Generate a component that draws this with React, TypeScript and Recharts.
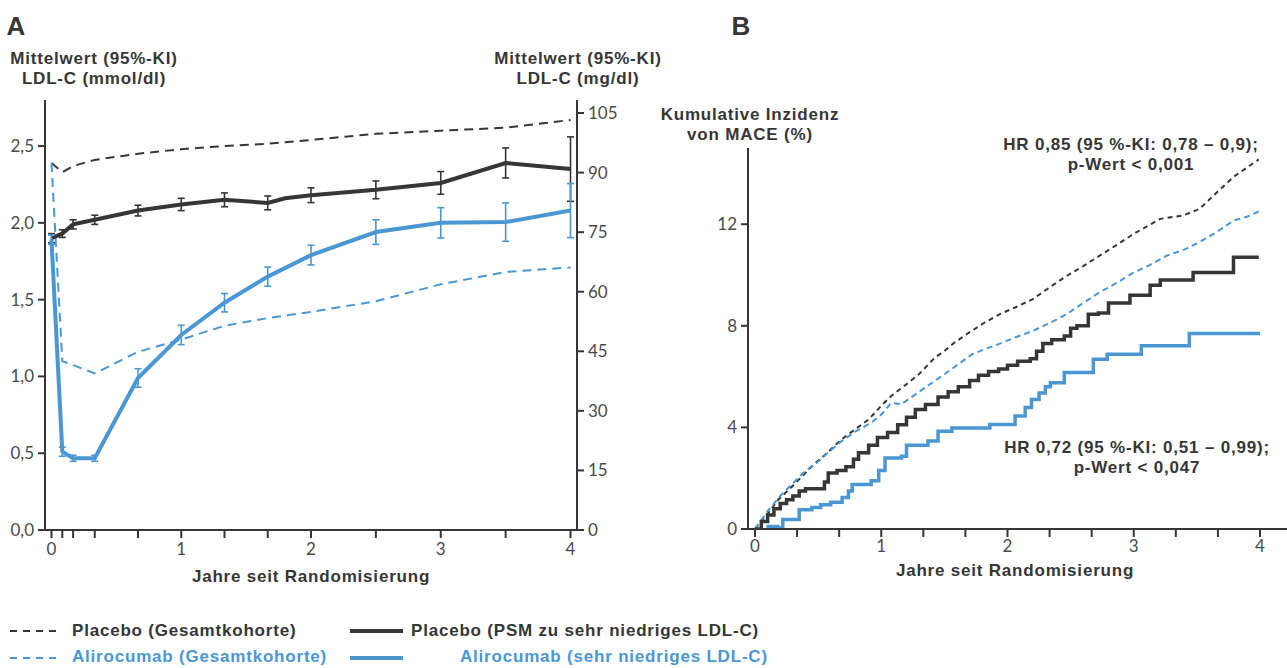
import { LineChart, Line, XAxis, YAxis, ErrorBar } from "recharts";

const BLACK = "#363636";
const BLUE = "#4a97d4";
const FONT = "'Liberation Sans', Arial, sans-serif";

// Panel A: LDL-C at visits (years since randomisation)
const visitYears = [0, 1 / 12, 1 / 6, 1 / 3, 2 / 3, 1, 4 / 3, 5 / 3, 2, 2.5, 3, 3.5, 4];
const placeboTotal = [2.39, 2.33, 2.37, 2.41, 2.45, 2.48, 2.5, 2.515, 2.54, 2.58, 2.6, 2.62, 2.67];

const psmYears = [0, 1 / 12, 1 / 6, 1 / 3, 2 / 3, 1, 4 / 3, 5 / 3, 1.8, 2, 2.5, 3, 3.5, 4];
const placeboPsm = [1.9, 1.93, 1.99, 2.02, 2.08, 2.12, 2.15, 2.13, 2.16, 2.18, 2.215, 2.26, 2.39, 2.35];
const placeboPsmErr = [0.03, 0.025, 0.03, 0.03, 0.035, 0.04, 0.045, 0.045, null, 0.048, 0.058, 0.074, 0.098, 0.21];

const alirocumabLow = [1.89, 0.51, 0.467, 0.467, 0.99, 1.27, 1.48, 1.65, 1.79, 1.94, 2.0, 2.005, 2.08];
const alirocumabLowErr = [0.03, 0.03, 0.02, 0.02, 0.06, 0.063, 0.06, 0.062, 0.064, 0.08, 0.099, 0.125, 0.176];

const aliTotalYears = [0, 1 / 12, 1 / 3, 2 / 3, 1, 4 / 3, 5 / 3, 2, 2.5, 3, 3.5, 4];
const alirocumabTotal = [2.39, 1.1, 1.02, 1.16, 1.24, 1.33, 1.38, 1.42, 1.49, 1.6, 1.68, 1.71];

const mmolTicks = [0, 0.5, 1, 1.5, 2, 2.5];
const mgTicks = [0, 15, 30, 45, 60, 75, 90, 105];

// Panel B: cumulative incidence of MACE (%)
const kmPlaceboTotalT = [0, 0.1, 0.185, 0.3, 0.45, 0.55, 0.686, 0.8, 0.9, 1.0, 1.08, 1.2, 1.3, 1.425, 1.5, 1.58, 1.7, 1.82, 1.94, 2.06, 2.2, 2.33, 2.47, 2.6, 2.73, 2.87, 3.0, 3.1, 3.21, 3.39, 3.52, 3.66, 3.79, 3.92, 3.99];
const kmPlaceboTotalV = [0, 0.6, 1.16, 1.7, 2.47, 2.9, 3.53, 3.95, 4.31, 4.85, 5.24, 5.7, 6.1, 6.75, 7.0, 7.34, 7.75, 8.13, 8.46, 8.72, 9.05, 9.5, 9.97, 10.35, 10.76, 11.2, 11.62, 11.9, 12.21, 12.34, 12.6, 13.26, 13.86, 14.31, 14.55];

const kmAliTotalT = [0, 0.1, 0.2, 0.3, 0.396, 0.5, 0.6, 0.686, 0.8, 0.92, 1.0, 1.08, 1.16, 1.29, 1.4, 1.5, 1.6, 1.72, 1.83, 1.93, 2.06, 2.2, 2.33, 2.47, 2.6, 2.73, 2.87, 3.0, 3.13, 3.26, 3.4, 3.52, 3.66, 3.79, 3.9, 3.99];
const kmAliTotalV = [0, 0.7, 1.3, 1.8, 2.27, 2.65, 3.1, 3.46, 3.85, 4.18, 4.5, 4.97, 4.91, 5.37, 5.75, 6.09, 6.45, 6.88, 7.1, 7.28, 7.54, 7.8, 8.1, 8.46, 8.9, 9.32, 9.7, 10.1, 10.4, 10.76, 11.0, 11.29, 11.7, 12.14, 12.3, 12.5];

const kmPlaceboPsmT = [0, 0.05, 0.1, 0.15, 0.2, 0.25, 0.3, 0.35, 0.4, 0.55, 0.58, 0.65, 0.72, 0.78, 0.82, 0.9, 0.97, 1.05, 1.13, 1.2, 1.27, 1.35, 1.45, 1.53, 1.61, 1.7, 1.77, 1.85, 1.93, 2.0, 2.08, 2.18, 2.23, 2.28, 2.35, 2.45, 2.5, 2.55, 2.64, 2.72, 2.8, 2.97, 3.13, 3.21, 3.47, 3.79, 3.99];
const kmPlaceboPsmV = [0, 0.3, 0.55, 0.8, 1.0, 1.15, 1.3, 1.5, 1.58, 1.85, 2.2, 2.3, 2.45, 2.75, 3.0, 3.3, 3.6, 3.8, 4.1, 4.4, 4.7, 4.9, 5.2, 5.4, 5.6, 5.85, 6.05, 6.2, 6.3, 6.45, 6.6, 6.7, 7.0, 7.3, 7.45, 7.6, 7.9, 8.0, 8.45, 8.5, 8.9, 9.2, 9.6, 9.8, 10.1, 10.7, 10.7];

const kmAliLowT = [0.09, 0.18, 0.22, 0.35, 0.45, 0.52, 0.6, 0.69, 0.74, 0.77, 0.92, 0.98, 1.03, 1.16, 1.2, 1.37, 1.45, 1.56, 1.86, 2.06, 2.14, 2.19, 2.25, 2.3, 2.34, 2.45, 2.68, 2.79, 3.06, 3.44, 4.0];
const kmAliLowV = [0.1, 0.05, 0.37, 0.76, 0.85, 0.95, 1.05, 1.24, 1.5, 1.75, 1.9, 2.3, 2.8, 2.86, 3.3, 3.46, 3.85, 3.98, 4.11, 4.45, 4.78, 5.1, 5.35, 5.6, 5.76, 6.16, 6.68, 6.88, 7.21, 7.7, 7.7];

const kmTicksX = [0, 1 / 3, 2 / 3, 1, 4 / 3, 5 / 3, 2, 7 / 3, 8 / 3, 3, 10 / 3, 11 / 3, 4];
const kmTicksY = [0, 4, 8, 12];

const zip = (ts: number[], vs: (number | null)[], es?: (number | null)[]) =>
  ts.map((t, i) => ({ t, v: vs[i], e: es ? es[i] : undefined }));

const tickStyle = { fill: "#4a4a4a", fontSize: 17, fontFamily: "Lato, sans-serif" };
const axisStyle = { stroke: BLACK, strokeWidth: 2 };
const intOnly = (v: number) => (Number.isInteger(v) ? String(v) : "");
const comma = (v: number) => v.toFixed(1).replace(".", ",");

// y is the centre of the first line; further lines follow every 20px
function Text({ x, y, lines, color = BLACK, size = 17, align = "center", w = 420, spacing = 0.8 }: any) {
  const left = align === "center" ? x - w / 2 : align === "right" ? x - w : x;
  const lh = lines.length > 1 ? 20 : Math.round(size * 1.15);
  return (
    <div
      style={{
        position: "absolute",
        left,
        top: y - lh / 2,
        width: w,
        textAlign: align,
        fontFamily: FONT,
        fontWeight: 700,
        fontSize: size,
        letterSpacing: spacing,
        lineHeight: `${lh}px`,
        color,
        whiteSpace: "nowrap",
      }}
    >
      {lines.map((l: string, i: number) => (
        <span key={i}>
          {i > 0 && <br />}
          {l}
        </span>
      ))}
    </div>
  );
}

function LegendKey({ x, y, color, dashed }: any) {
  return (
    <svg style={{ position: "absolute", left: x, top: y - 5 }} width={56} height={10}>
      <line
        x1={0}
        x2={dashed ? 52 : 53}
        y1={5}
        y2={5}
        stroke={color}
        strokeWidth={dashed ? 2 : 4}
        strokeDasharray={dashed ? "7 6" : undefined}
      />
    </svg>
  );
}

export default function App() {
  return (
    <div style={{ position: "absolute", left: 0, top: 0, width: 1287, height: 668, background: "#fff", overflow: "hidden" }}>
      <Text x={16} y={26} size={26} spacing={0} lines={["A"]} />
      <Text x={741} y={26} size={26} spacing={0} lines={["B"]} />

      <Text x={94} y={59} lines={["Mittelwert (95%-KI)", "LDL-C (mmol/dl)"]} />
      <Text x={578} y={59} lines={["Mittelwert (95%-KI)", "LDL-C (mg/dl)"]} />

      <div style={{ position: "absolute", left: 0, top: 0 }}>
        <LineChart width={640} height={600} margin={{ top: 100, right: 0, bottom: 0, left: 0 }}>
          <XAxis
            type="number"
            dataKey="t"
            domain={[-0.05, 4.05]}
            ticks={visitYears}
            interval={0}
            tickFormatter={intOnly}
            height={70}
            tickSize={8}
            tickMargin={5}
            tick={tickStyle}
            axisLine={axisStyle}
            tickLine={axisStyle}
            allowDataOverflow
          />
          <YAxis
            yAxisId="l"
            type="number"
            domain={[0, 2.8]}
            ticks={mmolTicks}
            interval={0}
            tickFormatter={comma}
            width={45}
            tickSize={7}
            tickMargin={4}
            tick={tickStyle}
            axisLine={axisStyle}
            tickLine={axisStyle}
            allowDataOverflow
          />
          <YAxis
            yAxisId="r"
            orientation="right"
            type="number"
            domain={[0, 108.28]}
            ticks={mgTicks}
            interval={0}
            width={63}
            tickSize={7}
            tickMargin={4}
            tick={tickStyle}
            axisLine={axisStyle}
            tickLine={axisStyle}
            allowDataOverflow
          />
          <Line
            yAxisId="l"
            data={zip(visitYears, placeboTotal)}
            dataKey="v"
            stroke={BLACK}
            strokeWidth={2}
            strokeDasharray="9 6"
            dot={false}
            isAnimationActive={false}
          />
          <Line
            yAxisId="l"
            data={zip(aliTotalYears, alirocumabTotal)}
            dataKey="v"
            stroke={BLUE}
            strokeWidth={2}
            strokeDasharray="9 6"
            dot={false}
            isAnimationActive={false}
          />
          <Line
            yAxisId="l"
            data={zip(psmYears, placeboPsm, placeboPsmErr)}
            dataKey="v"
            stroke={BLACK}
            strokeWidth={4}
            dot={false}
            isAnimationActive={false}
          >
            <ErrorBar dataKey="e" direction="y" width={3.5} strokeWidth={1.6} stroke={BLACK} />
          </Line>
          <Line
            yAxisId="l"
            data={zip(visitYears, alirocumabLow, alirocumabLowErr)}
            dataKey="v"
            stroke={BLUE}
            strokeWidth={4}
            dot={false}
            isAnimationActive={false}
          >
            <ErrorBar dataKey="e" direction="y" width={3.5} strokeWidth={1.6} stroke={BLUE} />
          </Line>
        </LineChart>
      </div>
      <Text x={311} y={577} lines={["Jahre seit Randomisierung"]} />

      <Text x={750} y={115} lines={["Kumulative Inzidenz", "von MACE (%)"]} />

      <div style={{ position: "absolute", left: 690, top: 0 }}>
        <LineChart width={597} height={600} margin={{ top: 148, right: 0, bottom: 0, left: 0 }}>
          <XAxis
            type="number"
            dataKey="t"
            domain={[-0.0554, 4.2139]}
            ticks={kmTicksX}
            interval={0}
            tickFormatter={intOnly}
            height={71}
            tickSize={8}
            tickMargin={3}
            tick={tickStyle}
            axisLine={axisStyle}
            tickLine={axisStyle}
            allowDataOverflow
          />
          <YAxis
            type="number"
            domain={[0, 15]}
            ticks={kmTicksY}
            interval={0}
            width={58}
            tickSize={7}
            tickMargin={4}
            tick={tickStyle}
            axisLine={axisStyle}
            tickLine={axisStyle}
            allowDataOverflow
          />
          <Line
            data={zip(kmPlaceboTotalT, kmPlaceboTotalV)}
            dataKey="v"
            type="linear"
            stroke={BLACK}
            strokeWidth={2}
            strokeDasharray="5 4"
            dot={false}
            isAnimationActive={false}
          />
          <Line
            data={zip(kmAliTotalT, kmAliTotalV)}
            dataKey="v"
            type="linear"
            stroke={BLUE}
            strokeWidth={2}
            strokeDasharray="6 4"
            dot={false}
            isAnimationActive={false}
          />
          <Line
            data={zip(kmPlaceboPsmT, kmPlaceboPsmV)}
            dataKey="v"
            type="stepAfter"
            stroke={BLACK}
            strokeWidth={3.5}
            dot={false}
            isAnimationActive={false}
          />
          <Line
            data={zip(kmAliLowT, kmAliLowV)}
            dataKey="v"
            type="stepAfter"
            stroke={BLUE}
            strokeWidth={3.5}
            dot={false}
            isAnimationActive={false}
          />
        </LineChart>
      </div>
      <Text x={1015} y={571} lines={["Jahre seit Randomisierung"]} />

      <Text x={1131} y={145} lines={["HR 0,85 (95 %-KI: 0,78 – 0,9);", "p-Wert < 0,001"]} />
      <Text x={1137} y={448} lines={["HR 0,72 (95 %-KI: 0,51 – 0,99);", "p-Wert < 0,047"]} />

      <LegendKey x={10} y={631} color={BLACK} dashed />
      <Text x={72} y={631} align="left" lines={["Placebo (Gesamtkohorte)"]} />
      <LegendKey x={350} y={631} color={BLACK} />
      <Text x={411} y={631} align="left" lines={["Placebo (PSM zu sehr niedriges LDL-C)"]} />

      <LegendKey x={10} y={658} color={BLUE} dashed />
      <Text x={72} y={657} align="left" color={BLUE} lines={["Alirocumab (Gesamtkohorte)"]} />
      <LegendKey x={350} y={658} color={BLUE} />
      <Text x={460} y={657} align="left" color={BLUE} lines={["Alirocumab (sehr niedriges LDL-C)"]} />
    </div>
  );
}
